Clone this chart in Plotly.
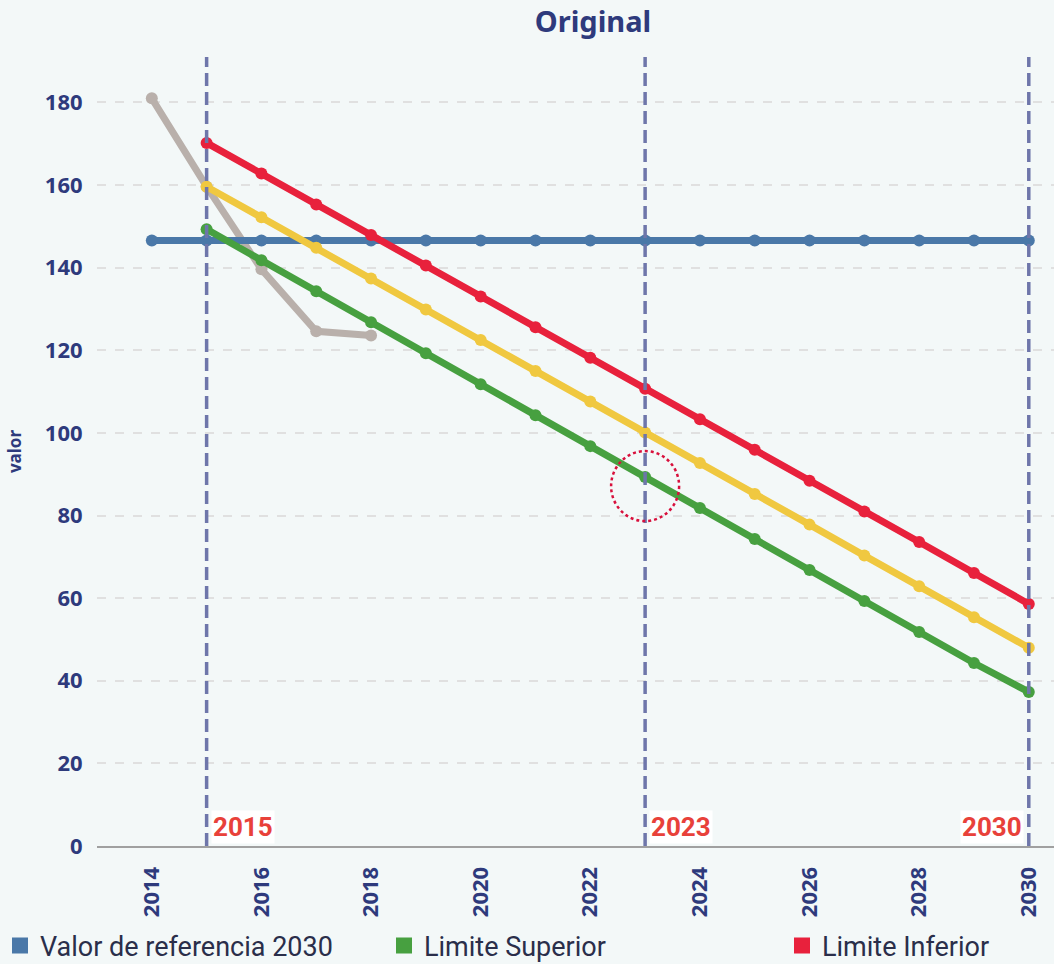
import plotly.graph_objects as go

# ---- data ----
years = [2014, 2015, 2016, 2017, 2018, 2019, 2020, 2021, 2022, 2023, 2024, 2025, 2026, 2027, 2028, 2029, 2030]
years_proj = [2015, 2016, 2017, 2018, 2019, 2020, 2021, 2022, 2023, 2024, 2025, 2026, 2027, 2028, 2029, 2030]
years_obs = [2014, 2015, 2016, 2017, 2018]

valor_referencia = [146.6, 146.6, 146.6, 146.6, 146.6, 146.6, 146.6, 146.6, 146.6,
                    146.6, 146.6, 146.6, 146.6, 146.6, 146.6, 146.6, 146.6]
limite_inferior = [170.2, 162.8, 155.3, 147.9, 140.5, 133.0, 125.6, 118.2, 110.7,
                   103.3, 95.9, 88.4, 81.0, 73.6, 66.1, 58.6]
meta = [159.6, 152.2, 144.8, 137.4, 129.9, 122.5, 115.0, 107.6, 100.1,
        92.7, 85.2, 77.8, 70.3, 62.9, 55.4, 48.0]
limite_superior = [149.3, 141.8, 134.3, 126.8, 119.3, 111.8, 104.3, 96.8, 89.3,
                   81.8, 74.3, 66.8, 59.3, 51.8, 44.3, 37.3]
observado = [181.0, 159.6, 139.6, 124.6, 123.6]

marker_years = [2015, 2023, 2030]
x_ticks = [2014, 2016, 2018, 2020, 2022, 2024, 2026, 2028, 2030]
legend_names = ["Valor de referencia 2030", "Limite Superior", "Limite Inferior"]

# ---- styles ----
C_BLUE = "#4a78a8"
C_RED = "#e8213c"
C_YEL = "#f0c840"
C_GRN = "#47a040"
C_GRY = "#b9b0ab"
NAVY = "#2e3a7c"
BG = "#f3f8f8"

fig = go.Figure()

def add_line(x, y, color):
    fig.add_trace(go.Scatter(
        x=x, y=y, mode="lines+markers",
        line=dict(color=color, width=7),
        marker=dict(color=color, size=12),
        showlegend=False, hoverinfo="x+y"))

add_line(years_obs, observado, C_GRY)
add_line(years, valor_referencia, C_BLUE)
add_line(years_proj, meta, C_YEL)
add_line(years_proj, limite_superior, C_GRN)
add_line(years_proj, limite_inferior, C_RED)

# legend-only entries with square symbols, each in its own legend box
legend_ids = ["legend", "legend2", "legend3"]
legend_left_px = [0, 384, 782]
for name, color, lid in zip(legend_names, [C_BLUE, C_GRN, C_RED], legend_ids):
    fig.add_trace(go.Scatter(
        x=[None], y=[None], mode="markers", name=name, legend=lid,
        marker=dict(symbol="square", size=20, color=color),
        showlegend=True))

# vertical dashed marker lines and labels
for i, yr in enumerate(marker_years):
    fig.add_shape(type="line", xref="x", yref="paper", x0=yr, x1=yr, y0=0, y1=1,
                  line=dict(color="#6e76aa", width=3.5, dash="13px,6px"), layer="above")
    last = i == len(marker_years) - 1
    fig.add_annotation(
        x=yr, y=0, xref="x", yref="y", text=f"<b>{yr}</b>", showarrow=False,
        xanchor="right" if last else "left", yanchor="bottom",
        xshift=-5 if last else 4, yshift=2,
        font=dict(family="Roboto", size=26, color="#e8413a"),
        bgcolor="white", borderpad=1)

# dotted highlight circle around limite superior in 2023
idx = years_proj.index(2023)
fig.add_shape(type="circle", xref="x", yref="y",
              xsizemode="pixel", ysizemode="pixel",
              xanchor=2023, yanchor=limite_superior[idx],
              x0=-34, x1=34, y0=-44, y1=26,
              line=dict(color="#d8103c", width=2.5, dash="dot"), layer="above")

legend_common = dict(orientation="h", xanchor="left", yanchor="middle",
                     xref="container", yref="container", y=(964 - 946) / 964,
                     font=dict(family="Roboto", size=27, color="#2a2e4a"),
                     bgcolor="rgba(0,0,0,0)", itemclick=False, itemdoubleclick=False)

fig.update_layout(
    width=1054, height=964,
    paper_bgcolor=BG, plot_bgcolor=BG,
    margin=dict(l=97, r=0, t=57, b=118),
    title=dict(text="<b>Original</b>", x=593 / 1054, xanchor="center", xref="container",
               y=1 - 22 / 964, yanchor="middle", yref="container",
               font=dict(family="Noto Sans", size=29, color=NAVY)),
    font=dict(family="Noto Sans", color=NAVY),
    showlegend=True,
    legend=dict(x=legend_left_px[0] / 1054, **legend_common),
    legend2=dict(x=legend_left_px[1] / 1054, **legend_common),
    legend3=dict(x=legend_left_px[2] / 1054, **legend_common),
    xaxis=dict(range=[2013.0, 2030.46], tickvals=x_ticks, tickangle=-90, automargin=False,
               tickfont=dict(family="Noto Sans", size=22, color=NAVY, weight="bold"),
               showgrid=False, zeroline=False,
               showline=True, linecolor="#a0a0a0", linewidth=2,
               ticks="outside", ticklen=10, tickcolor="rgba(0,0,0,0)"),
    yaxis=dict(range=[0, 191], dtick=20, tick0=0, automargin=False,
               tickfont=dict(family="Noto Sans", size=22, color=NAVY, weight="bold"),
               showgrid=True, gridcolor="#e0e0e0", gridwidth=2, griddash="dash",
               zeroline=False, showline=False,
               ticks="outside", ticklen=9, tickcolor="rgba(0,0,0,0)",
               title=dict(text="<b>valor</b>", font=dict(family="Noto Sans", size=17, color=NAVY),
                          standoff=18)),
)

fig.write_html("out.html", config={"displayModeBar": False},
               post_script="document.body.style.margin='0';")
